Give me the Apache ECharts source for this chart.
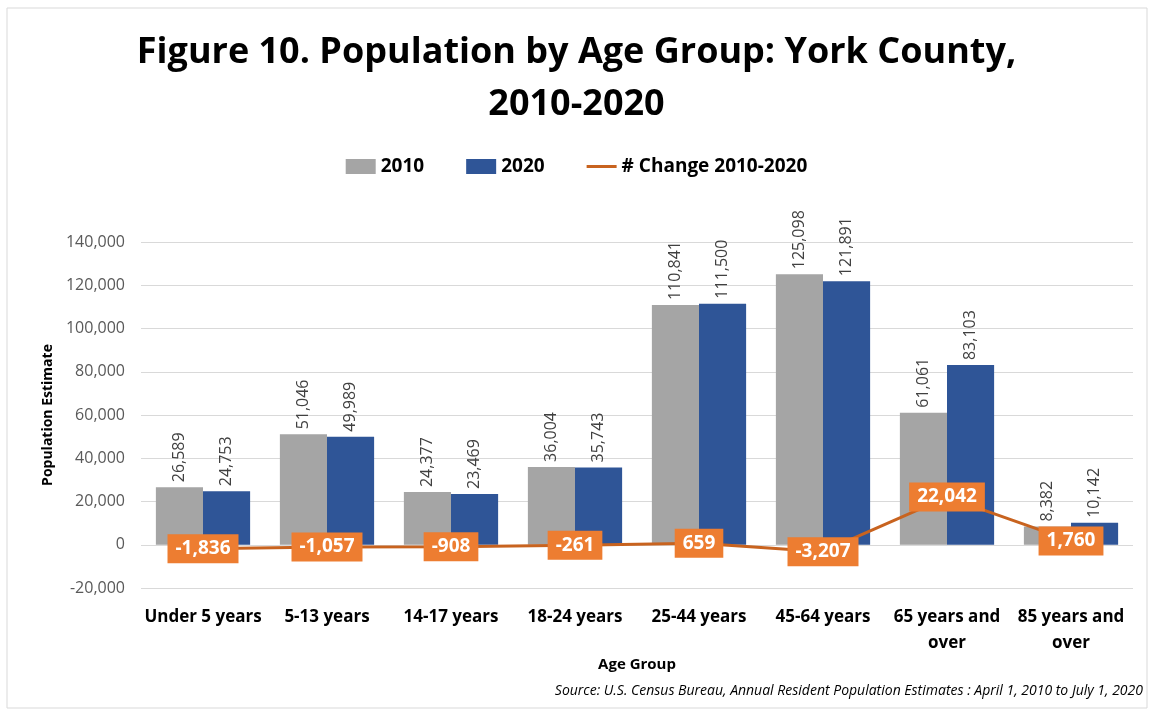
<!DOCTYPE html>
<html>
<head>
<meta charset="utf-8">
<script src="https://cdn.jsdelivr.net/npm/echarts@6/dist/echarts.min.js"></script>
<style>
  html, body { margin: 0; padding: 0; background: #fff; }
  #main { width: 1153px; height: 710px; }
</style>
</head>
<body>
<div id="main"></div>
<script>
// age groups on the x axis
var ageGroups = ['Under 5 years', '5-13 years', '14-17 years', '18-24 years', '25-44 years', '45-64 years', '65 years and\nover', '85 years and\nover'];
var pop2010 = [26589, 51046, 24377, 36004, 110841, 125098, 61061, 8382];
var pop2020 = [24753, 49989, 23469, 35743, 111500, 121891, 83103, 10142];
var change = [-1836, -1057, -908, -261, 659, -3207, 22042, 1760];

var fmt = function (v) { return Number(v).toLocaleString('en-US'); };

var chart = echarts.init(document.getElementById('main'));

var barLabel = {
    show: true,
    position: 'top',
    rotate: 90,
    align: 'left',
    verticalAlign: 'middle',
    distance: 5,
    color: '#404040',
    fontSize: 16,
    fontFamily: 'Open Sans',
    formatter: function (p) { return fmt(p.value); }
};

var option = {
    animation: false,
    backgroundColor: '#fff',
    title: {
        text: 'Figure 10. Population by Age Group: York County,\n2010-2020',
        left: 'center',
        top: 22,
        textStyle: {
            fontFamily: 'Open Sans',
            fontWeight: 'bold',
            fontSize: 36,
            lineHeight: 52,
            color: '#000'
        }
    },
    legend: {
        top: 152,
        left: 'center',
        itemGap: 42,
        itemWidth: 30,
        itemHeight: 15,
        textStyle: { fontFamily: 'Open Sans', fontWeight: 'bold', fontSize: 19, color: '#000' },
        data: [
            { name: '2010', icon: 'rect' },
            { name: '2020', icon: 'rect' },
            { name: '# Change 2010-2020', icon: 'path://M0,0 L30,0 L30,3 L0,3 Z', itemStyle: { color: '#C8631F', opacity: 1 } }
        ]
    },
    grid: { left: 141, right: 20, top: 242, bottom: 122, outerBoundsMode: 'none', containLabel: false },
    xAxis: {
        type: 'category',
        data: ageGroups,
        name: 'Age Group',
        nameLocation: 'middle',
        nameGap: 62,
        nameTextStyle: { fontFamily: 'Open Sans', fontWeight: 'bold', fontSize: 15, color: '#000' },
        axisLine: { show: false },
        axisTick: { show: false },
        axisLabel: {
            interval: 0,
            margin: 16,
            fontFamily: 'Open Sans',
            fontWeight: 'bold',
            fontSize: 17,
            lineHeight: 26,
            color: '#000',
            verticalAlign: 'top'
        }
    },
    yAxis: {
        type: 'value',
        min: -20000,
        max: 140000,
        interval: 20000,
        name: 'Population Estimate',
        nameLocation: 'middle',
        nameGap: 86,
        nameTextStyle: { fontFamily: 'Open Sans', fontWeight: 'bold', fontSize: 14, color: '#000' },
        axisLine: { show: false },
        axisTick: { show: false },
        axisLabel: {
            margin: 16,
            fontFamily: 'Open Sans',
            fontSize: 16,
            color: '#595959',
            formatter: function (v) { return fmt(v); }
        },
        splitLine: { lineStyle: { color: '#d9d9d9', width: 1 } }
    },
    series: [
        {
            name: '2010',
            type: 'bar',
            data: pop2010,
            barGap: '0%',
            barCategoryGap: '24%',
            itemStyle: { color: '#A5A5A5' },
            label: barLabel
        },
        {
            name: '2020',
            type: 'bar',
            data: pop2020,
            itemStyle: { color: '#2F5597' },
            label: barLabel
        },
        {
            name: '# Change 2010-2020',
            type: 'line',
            data: change,
            z: 5,
            symbol: 'rect',
            symbolSize: 2,
            showSymbol: true,
            lineStyle: { color: '#C8631F', width: 3 },
            itemStyle: { color: '#ED7D31' },
            labelLayout: { hideOverlap: false },
            label: {
                show: true,
                position: 'inside',
                offset: [0, 3],
                color: '#fff',
                fontFamily: 'Open Sans',
                fontWeight: 'bold',
                fontSize: 19,
                backgroundColor: '#ED7D31',
                padding: [6, 8, 4, 8],
                formatter: function (p) { return fmt(p.value); }
            }
        }
    ],
    graphic: [
        {
            type: 'rect',
            shape: { x: 7, y: 8, width: 1140, height: 700 },
            style: { fill: 'none', stroke: '#d9d9d9', lineWidth: 1 },
            silent: true
        },
        {
            type: 'text',
            right: 10,
            top: 684,
            style: {
                text: 'Source: U.S. Census Bureau, Annual Resident Population Estimates : April 1, 2010 to July 1, 2020',
                font: 'italic 14px "Open Sans"',
                fill: '#000'
            }
        }
    ]
};

chart.setOption(option);
</script>
</body>
</html>
